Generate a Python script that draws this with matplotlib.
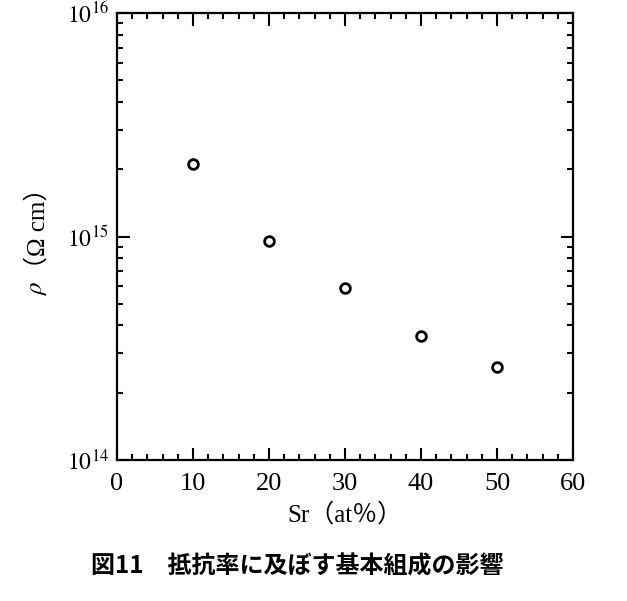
import matplotlib
matplotlib.use("Agg")
import matplotlib.pyplot as plt
from matplotlib.ticker import LogLocator, MultipleLocator, FixedLocator, FuncFormatter

plt.rcParams['font.family'] = ['Liberation Serif', 'Noto Sans CJK JP']
plt.rcParams['mathtext.fontset'] = 'stix'

sr_at = [10, 20, 30, 40, 50]
rho = [2.1e15, 9.5e14, 5.9e14, 3.6e14, 2.6e14]
x_ticks = [0, 10, 20, 30, 40, 50, 60]
y_ticks = [1e14, 1e15, 1e16]
y_tick_labels = [r'$10^{14}$', r'$10^{15}$', r'$10^{16}$']
x_label = 'Sr（at％）'
y_label_symbol = r'$\rho$'
y_label_unit = '（Ω cm）'
caption = '図11　抵抗率に及ぼす基本組成の影響'

fig = plt.figure(figsize=(6.27, 6.01), dpi=100)
ax = fig.add_axes([117/627, 1-460/601, (573-117)/627, (460-13)/601])

ax.plot(sr_at, rho, linestyle='none', marker='o', markersize=7,
        markerfacecolor='white', markeredgecolor='black', markeredgewidth=2.0)

ax.set_yscale('log')
ax.set_xlim(0, 60)
ax.set_ylim(1e14, 1e16)

ax.xaxis.set_major_locator(FixedLocator(x_ticks))
ax.xaxis.set_minor_locator(MultipleLocator(2))
ax.set_xticks(x_ticks)
ax.set_xticklabels([str(v) for v in x_ticks])
ax.yaxis.set_major_locator(FixedLocator(y_ticks))
ax.yaxis.set_minor_locator(LogLocator(base=10, subs=range(2, 10)))
ax.set_yticks(y_ticks)
ax.set_yticklabels(y_tick_labels)
ax.yaxis.set_minor_formatter(FuncFormatter(lambda v, p: ''))

ax.tick_params(which='both', direction='in', top=True, right=True, width=1.5, color='black')
ax.tick_params(which='major', length=9)
ax.tick_params(which='minor', length=4.5)
ax.tick_params(axis='x', which='major', labelsize=19, pad=9)
ax.tick_params(axis='y', which='major', labelsize=17, pad=6)

for s in ax.spines.values():
    s.set_linewidth(1.6)

ax.set_xlabel(x_label, fontsize=18, labelpad=6)

fig.text(38/627, 1-289/601, y_label_symbol, rotation=90, ha='center', va='center', fontsize=18)
fig.text(38/627, 1-228/601, y_label_unit, rotation=90, ha='center', va='center', fontsize=18)

fig.text(297/627, 1-567/601, caption, ha='center', va='center', fontsize=17.3,
         fontweight='bold', family=['Noto Sans CJK JP', 'DejaVu Sans'])

fig.savefig('out.png', dpi=100)
